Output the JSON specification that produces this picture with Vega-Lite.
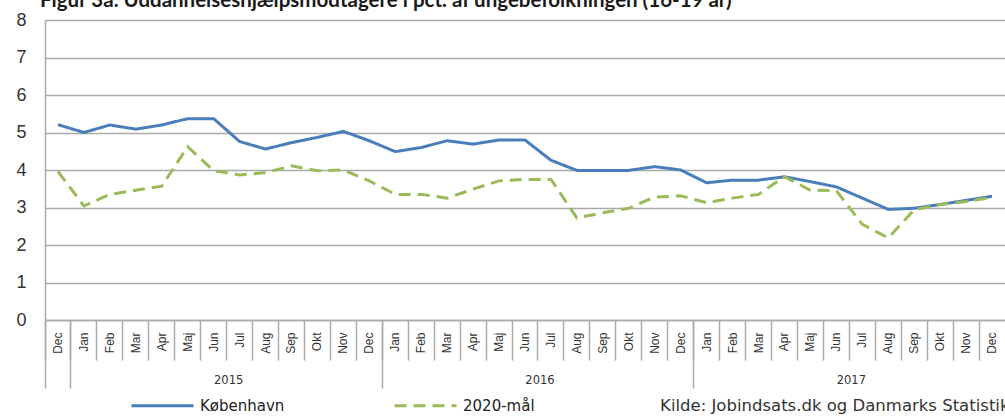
{
  "$schema": "https://vega.github.io/schema/vega-lite/v6.json",
  "width": 960,
  "height": 300,
  "autosize": {"type": "none"},
  "padding": {"left": 45, "top": 20, "right": 0, "bottom": 96},
  "background": "white",
  "title": {
    "text": "Figur 3a. Uddannelseshjælpsmodtagere i pct. af ungebefolkningen (16-19 år)",
    "anchor": "start",
    "frame": "group",
    "font": "Lato",
    "fontWeight": "bold",
    "fontSize": 20.5,
    "color": "#1a1a1a",
    "offset": 0,
    "dx": -5
  },
  "config": {
    "view": {"stroke": null},
    "axis": {"labelFont": "Liberation Sans", "titleFont": "Liberation Sans"}
  },
  "data": {
    "values": [
      {"m": "2014-12", "s": "København", "v": 5.21},
      {"m": "2015-01", "s": "København", "v": 5.0},
      {"m": "2015-02", "s": "København", "v": 5.2},
      {"m": "2015-03", "s": "København", "v": 5.09},
      {"m": "2015-04", "s": "København", "v": 5.2},
      {"m": "2015-05", "s": "København", "v": 5.37},
      {"m": "2015-06", "s": "København", "v": 5.37},
      {"m": "2015-07", "s": "København", "v": 4.76},
      {"m": "2015-08", "s": "København", "v": 4.56},
      {"m": "2015-09", "s": "København", "v": 4.73},
      {"m": "2015-10", "s": "København", "v": 4.87},
      {"m": "2015-11", "s": "København", "v": 5.03},
      {"m": "2015-12", "s": "København", "v": 4.78},
      {"m": "2016-01", "s": "København", "v": 4.49},
      {"m": "2016-02", "s": "København", "v": 4.6},
      {"m": "2016-03", "s": "København", "v": 4.78},
      {"m": "2016-04", "s": "København", "v": 4.69},
      {"m": "2016-05", "s": "København", "v": 4.8},
      {"m": "2016-06", "s": "København", "v": 4.8},
      {"m": "2016-07", "s": "København", "v": 4.26},
      {"m": "2016-08", "s": "København", "v": 3.99},
      {"m": "2016-09", "s": "København", "v": 3.99},
      {"m": "2016-10", "s": "København", "v": 3.99},
      {"m": "2016-11", "s": "København", "v": 4.09},
      {"m": "2016-12", "s": "København", "v": 4.0},
      {"m": "2017-01", "s": "København", "v": 3.66},
      {"m": "2017-02", "s": "København", "v": 3.73},
      {"m": "2017-03", "s": "København", "v": 3.73},
      {"m": "2017-04", "s": "København", "v": 3.82},
      {"m": "2017-05", "s": "København", "v": 3.69},
      {"m": "2017-06", "s": "København", "v": 3.55},
      {"m": "2017-07", "s": "København", "v": 3.25},
      {"m": "2017-08", "s": "København", "v": 2.95},
      {"m": "2017-09", "s": "København", "v": 2.98},
      {"m": "2017-10", "s": "København", "v": 3.08},
      {"m": "2017-11", "s": "København", "v": 3.19},
      {"m": "2017-12", "s": "København", "v": 3.3},
      {"m": "2014-12", "s": "2020-mål", "v": 3.96},
      {"m": "2015-01", "s": "2020-mål", "v": 3.04},
      {"m": "2015-02", "s": "2020-mål", "v": 3.35},
      {"m": "2015-03", "s": "2020-mål", "v": 3.46},
      {"m": "2015-04", "s": "2020-mål", "v": 3.57},
      {"m": "2015-05", "s": "2020-mål", "v": 4.62},
      {"m": "2015-06", "s": "2020-mål", "v": 3.98},
      {"m": "2015-07", "s": "2020-mål", "v": 3.87},
      {"m": "2015-08", "s": "2020-mål", "v": 3.93},
      {"m": "2015-09", "s": "2020-mål", "v": 4.11},
      {"m": "2015-10", "s": "2020-mål", "v": 3.98},
      {"m": "2015-11", "s": "2020-mål", "v": 4.0},
      {"m": "2015-12", "s": "2020-mål", "v": 3.71},
      {"m": "2016-01", "s": "2020-mål", "v": 3.35},
      {"m": "2016-02", "s": "2020-mål", "v": 3.35},
      {"m": "2016-03", "s": "2020-mål", "v": 3.25},
      {"m": "2016-04", "s": "2020-mål", "v": 3.49},
      {"m": "2016-05", "s": "2020-mål", "v": 3.71},
      {"m": "2016-06", "s": "2020-mål", "v": 3.75},
      {"m": "2016-07", "s": "2020-mål", "v": 3.75},
      {"m": "2016-08", "s": "2020-mål", "v": 2.72},
      {"m": "2016-09", "s": "2020-mål", "v": 2.86},
      {"m": "2016-10", "s": "2020-mål", "v": 2.98},
      {"m": "2016-11", "s": "2020-mål", "v": 3.28},
      {"m": "2016-12", "s": "2020-mål", "v": 3.31},
      {"m": "2017-01", "s": "2020-mål", "v": 3.13},
      {"m": "2017-02", "s": "2020-mål", "v": 3.25},
      {"m": "2017-03", "s": "2020-mål", "v": 3.35},
      {"m": "2017-04", "s": "2020-mål", "v": 3.82},
      {"m": "2017-05", "s": "2020-mål", "v": 3.46},
      {"m": "2017-06", "s": "2020-mål", "v": 3.45},
      {"m": "2017-07", "s": "2020-mål", "v": 2.55},
      {"m": "2017-08", "s": "2020-mål", "v": 2.19},
      {"m": "2017-09", "s": "2020-mål", "v": 2.94},
      {"m": "2017-10", "s": "2020-mål", "v": 3.08},
      {"m": "2017-11", "s": "2020-mål", "v": 3.16},
      {"m": "2017-12", "s": "2020-mål", "v": 3.27}
    ]
  },
  "resolve": {"axis": {"x": "independent"}},
  "layer": [
    {
      "mark": {"type": "line", "strokeWidth": 3},
      "encoding": {
        "x": {
          "field": "m", "type": "ordinal", "sort": null,
          "scale": {"type": "band", "paddingInner": 0, "paddingOuter": 0},
          "axis": {
            "orient": "bottom",
            "title": null,
            "labelExpr": "['Jan','Feb','Mar','Apr','Maj','Jun','Jul','Aug','Sep','Okt','Nov','Dec'][toNumber(slice(datum.value, 5)) - 1]",
            "labelAngle": 270, "labelFontSize": 12, "labelColor": "#333",
            "bandPosition": 0, "tickSize": 40, "tickColor": "#aaaaaa", "tickWidth": 1.5,
            "labelPadding": -28, "domainColor": "#aaaaaa", "domainWidth": 1.5, "grid": false
          }
        },
        "y": {
          "field": "v", "type": "quantitative",
          "scale": {"domain": [0, 8], "nice": false},
          "axis": {
            "title": null, "tickCount": 8, "ticks": false, "labelPadding": 19, "grid": true,
            "labelFontSize": 18, "labelColor": "#333", "labelFont": "Liberation Sans",
            "gridColor": "#aaaaaa", "gridWidth": 1.5, "domainColor": "#aaaaaa", "domainWidth": 1.5
          }
        },
        "color": {
          "field": "s", "type": "nominal",
          "scale": {"domain": ["København", "2020-mål"], "range": ["#4a7ebb", "#9bbb59"]},
          "legend": {
            "title": null, "orient": "none", "direction": "horizontal",
            "legendX": 85, "legendY": 353,
            "symbolType": "stroke", "symbolSize": 3844, "symbolStrokeWidth": 3,
            "labelFont": "DejaVu Sans", "labelFontSize": 15, "labelColor": "#222",
            "labelOffset": 5, "columnPadding": 103
          }
        },
        "strokeDash": {
          "field": "s", "type": "nominal",
          "scale": {"domain": ["København", "2020-mål"], "range": [[1, 0], [12, 7]]},
          "legend": {
            "title": null, "orient": "none", "direction": "horizontal",
            "legendX": 85, "legendY": 353,
            "symbolType": "stroke", "symbolSize": 3844, "symbolStrokeWidth": 3,
            "labelFont": "DejaVu Sans", "labelFontSize": 15, "labelColor": "#222",
            "labelOffset": 5, "columnPadding": 103
          }
        }
      }
    },
    {
      "mark": {"type": "line", "opacity": 0},
      "encoding": {
        "x": {
          "field": "m", "type": "ordinal", "sort": null,
          "scale": {"type": "band", "paddingInner": 0, "paddingOuter": 0},
          "axis": {
            "orient": "bottom",
            "title": null,
            "values": ["2015-06", "2016-06", "2017-06"],
            "labelExpr": "slice(datum.value, 0, 4)",
            "labelOffset": 15, "labelAngle": 0, "labelPadding": 54,
            "labelFontSize": 11.5, "labelColor": "#333", "labelFont": "DejaVu Sans",
            "ticks": false, "domain": false, "grid": false
          }
        },
        "y": {"field": "v", "type": "quantitative"},
        "detail": {"field": "s"}
      }
    },
    {
      "mark": {"type": "line", "opacity": 0},
      "encoding": {
        "x": {
          "field": "m", "type": "ordinal", "sort": null,
          "scale": {"type": "band", "paddingInner": 0, "paddingOuter": 0},
          "axis": {
            "orient": "bottom",
            "title": "Kilde: Jobindsats.dk og Danmarks Statistik",
            "titleFont": "DejaVu Sans", "titleFontSize": 16.5, "titleFontWeight": "normal",
            "titleColor": "#333", "titleX": 964, "titleY": 90, "titleAlign": "right", "titleBaseline": "alphabetic",
            "values": ["2014-12", "2015-01", "2016-01", "2017-01"],
            "bandPosition": 0, "tickSize": 68, "tickColor": "#aaaaaa", "tickWidth": 1.5,
            "labels": false, "domain": false, "grid": false
          }
        },
        "y": {"field": "v", "type": "quantitative"},
        "detail": {"field": "s"}
      }
    }
  ]
}
